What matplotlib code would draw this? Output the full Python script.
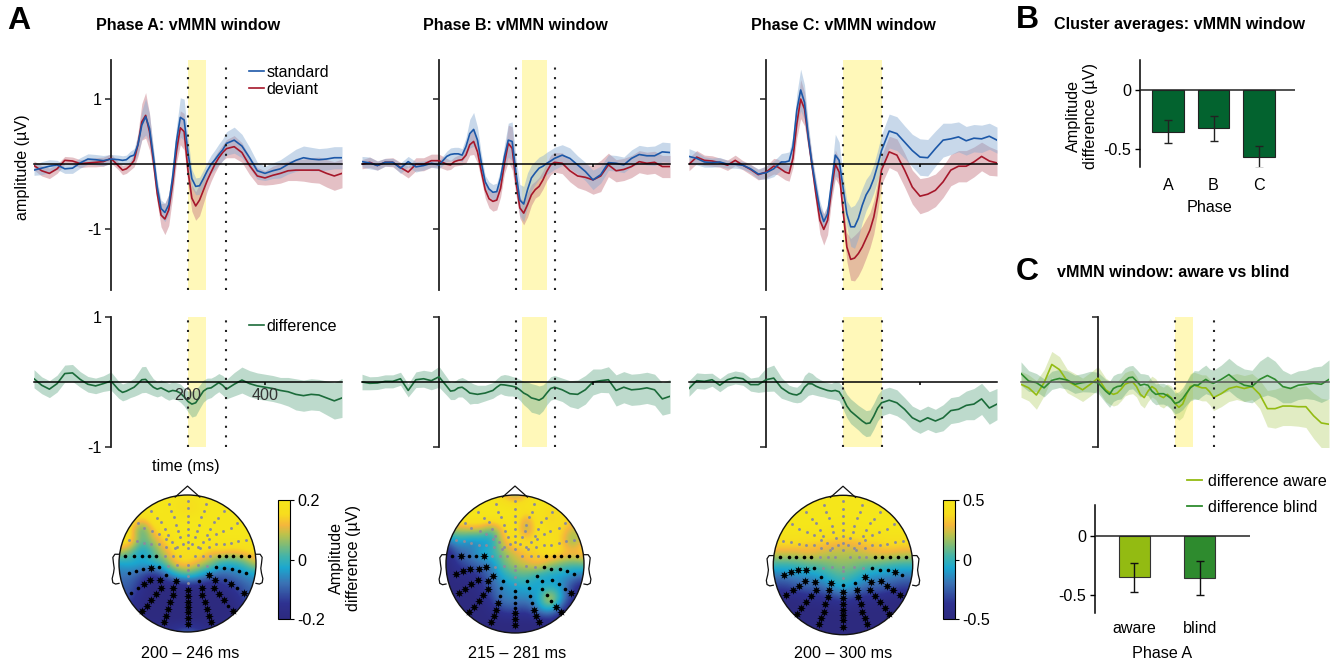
import matplotlib
matplotlib.use('Agg')
import matplotlib.pyplot as plt
from matplotlib.colors import LinearSegmentedColormap
from matplotlib.patches import Circle
import numpy as np

plt.rcParams['font.family'] = ['Liberation Sans', 'DejaVu Sans']
plt.rcParams['font.size'] = 11.6

W, H = 1338, 665

# time points (ms)
T = [-200, -180, -160, -140, -120, -100, -80, -60, -40, -20, 0, 20,
     30, 40, 50, 60, 70, 80, 90, 100, 110, 120, 130, 140, 150, 160, 170, 180, 190, 200,
     210, 220, 230, 240, 250, 260, 270, 280, 290, 300,
     320, 340, 360, 380, 400, 420, 440, 460, 480, 500, 520, 540, 560, 580, 600]

# phase A
std_a = [-.09, -.06, -.03, -.01, -.07, -.06, .02, .08, .07, .055, .08, .07,
         .06, .07, .12, .14, .3, .6, .73, .55, .12, -.35, -.68, -.74, -.62, -.2, .35, .72, .68, .18,
         -.22, -.34, -.33, -.22, -.1, 0, .07, .15, .22, .32,
         .37, .28, .1, -.1, -.14, -.1, -.07, 0, .06, .1, .08, .07, .08, .1, .1]
dev_a = [-.02, -.1, -.14, -.07, .06, .05, .01, .02, .03, .04, .09, -.03,
         -.09, -.07, -.02, .06, .3, .65, .75, .5, .05, -.45, -.78, -.84, -.7, -.3, .2, .56, .5, -.1,
         -.52, -.64, -.55, -.4, -.25, -.12, 0, .1, .18, .24,
         .27, .18, -.02, -.18, -.21, -.17, -.14, -.1, -.09, -.09, -.09, -.09, -.14, -.18, -.14]
se_std_a = [.08, .1, .1, .07, .07, .08, .08, .08, .08, .08, .07, .07,
            .07, .07, .08, .1, .15, .22, .28, .22, .14, .12, .13, .14, .15, .18, .22, .3, .32, .22,
            .14, .13, .13, .13, .13, .14, .15, .16, .17, .18,
            .2, .18, .16, .13, .11, .12, .14, .15, .17, .18, .18, .17, .17, .17, .17]
se_dev_a = [.07, .08, .08, .07, .06, .06, .06, .06, .07, .07, .07, .06,
            .07, .07, .07, .1, .18, .28, .35, .28, .16, .14, .18, .24, .24, .2, .18, .26, .28, .22,
            .2, .22, .24, .2, .16, .14, .13, .12, .12, .14,
            .17, .15, .14, .13, .11, .14, .15, .15, .16, .17, .19, .2, .21, .22, .22]
diff_a = [.05, -.05, -.11, -.025, .13, .14, .04, -.035, -.06, -.025, .015, -.12,
          -.16, -.14, -.11, -.08, -.025, .035, .04, -.025, -.08, -.11, -.09, -.12, -.15, -.13, -.14, -.17, -.23, -.3,
          -.34, -.32, -.23, -.14, -.1, -.09, -.05, -.01, -.05, -.11,
          -.035, .03, -.025, -.06, -.08, -.1, -.13, -.15, -.19, -.21, -.19, -.2, -.245, -.29, -.245]
se_diff_a = [.14, .13, .13, .13, .13, .13, .12, .12, .12, .12, .14, .13,
             .13, .13, .13, .14, .17, .2, .2, .16, .13, .12, .12, .13, .13, .13, .13, .14, .14, .16,
             .2, .2, .18, .17, .16, .15, .14, .14, .15, .15,
             .18, .2, .2, .2, .2, .2, .2, .22, .24, .24, .24, .24, .26, .28, .3]

# phase B
std_b = [.04, .02, -.02, .03, .03, -.06, .04, -.04, -.02, .015, -.01, .12,
         .15, .16, .16, .14, .27, .47, .535, .37, .02, -.27, -.38, -.43, -.42, -.21, .12, .37, .35, -.14,
         -.55, -.61, -.39, -.21, -.13, -.06, -.03, .015, .05, .09,
         .14, .09, -.01, -.11, -.24, -.16, .025, .015, -.01, .09, .15, .13, .13, .19, .18]
dev_b = [0, .03, -.02, .03, .03, -.05, -.12, 0, 0, .055, .055, 0,
         -.01, .04, .06, .07, .14, .3, .35, .19, -.11, -.39, -.53, -.57, -.55, -.37, .015, .32, .245, -.27,
         -.67, -.75, -.62, -.47, -.39, -.34, -.24, -.11, -.01, .03,
         .015, -.1, -.18, -.2, -.24, -.18, -.01, -.1, -.08, -.035, .04, .015, .03, -.035, -.035]
se_std_b = [.08, .09, .07, .06, .06, .08, .08, .08, .07, .06, .06, .08,
            .1, .1, .1, .1, .14, .22, .26, .2, .14, .1, .11, .12, .13, .14, .18, .26, .3, .24,
            .24, .27, .26, .2, .18, .17, .17, .17, .17, .17,
            .16, .16, .14, .14, .15, .13, .12, .12, .12, .13, .14, .14, .15, .15, .15]
se_dev_b = [.07, .08, .07, .06, .07, .08, .09, .1, .1, .1, .1, .09,
            .07, .07, .08, .08, .12, .16, .2, .17, .13, .13, .14, .15, .15, .13, .16, .28, .33, .2,
            .16, .18, .19, .16, .13, .14, .14, .14, .15, .15,
            .16, .17, .18, .2, .22, .24, .18, .17, .17, .17, .17, .17, .17, .17, .17]
diff_b = [0, -.02, -.015, .01, .01, .05, -.13, .035, .05, .02, .08, -.065,
          -.14, -.13, -.09, -.08, -.12, -.17, -.18, -.19, -.18, -.17, -.15, -.13, -.08, -.04, -.045, -.055, -.065, -.08,
          -.12, -.17, -.2, -.245, -.26, -.28, -.245, -.17, -.1, -.08,
          -.12, -.18, -.19, -.12, 0, .02, .035, -.13, -.08, -.12, -.11, -.09, -.12, -.26, -.22]
se_diff_b = [.12, .1, .1, .1, .1, .1, .1, .12, .13, .14, .16, .14,
             .13, .14, .14, .15, .16, .17, .15, .14, .13, .12, .12, .12, .13, .14, .16, .16, .15, .15,
             .16, .18, .2, .22, .22, .22, .2, .18, .18, .18,
             .18, .2, .22, .22, .2, .18, .2, .24, .24, .24, .24, .24, .24, .25, .26]

# phase C
std_c = [.12, .09, .035, .025, .035, 0, 0, -.015, -.07, -.15, -.13, -.07,
         -.015, .035, .035, .05, .27, .83, 1.14, .95, .42, -.015, -.37, -.7, -.88, -.76, -.3, .14, .06, -.35,
         -.76, -.96, -.96, -.83, -.63, -.47, -.37, -.22, -.015, .21,
         .51, .47, .34, .21, .11, .1, .24, .37, .39, .42, .36, .4, .39, .43, .37]
dev_c = [0, .11, .06, .05, .025, -.015, .06, -.015, -.08, -.16, -.12, -.03,
         -.04, -.08, -.12, -.14, .09, .62, 1.0, .85, .39, -.04, -.47, -.86, -1.0, -.86, -.4, 0, -.12, -.7,
         -1.27, -1.46, -1.44, -1.37, -1.27, -1.14, -1.01, -.81, -.5, -.09,
         .19, .14, -.09, -.35, -.49, -.46, -.4, -.27, -.09, -.03, -.03, .035, .12, .05, .02]
se_std_c = [.12, .1, .08, .07, .07, .06, .06, .06, .06, .08, .1, .12,
            .12, .13, .14, .14, .16, .25, .32, .27, .2, .14, .14, .13, .12, .13, .18, .32, .28, .18,
            .2, .3, .33, .3, .26, .24, .22, .22, .23, .24,
            .26, .26, .25, .25, .28, .28, .27, .26, .24, .23, .22, .21, .21, .2, .2]
se_dev_c = [.1, .1, .08, .08, .07, .08, .08, .07, .08, .08, .09, .12,
            .12, .12, .12, .12, .14, .22, .3, .26, .16, .14, .17, .21, .24, .22, .17, .22, .2, .18,
            .22, .32, .35, .34, .32, .3, .27, .26, .23, .22,
            .24, .25, .26, .26, .27, .26, .25, .24, .24, .24, .24, .23, .22, .22, .2]
diff_c = [-.1, .02, .01, .035, -.05, .035, .07, .05, -.04, -.04, .035, .06,
          -.015, -.09, -.13, -.17, -.19, -.2, -.17, -.08, -.025, -.03, -.065, -.09, -.11, -.13, -.14, -.13, -.15, -.245,
          -.37, -.45, -.5, -.55, -.6, -.64, -.63, -.525, -.4, -.32,
          -.28, -.32, -.42, -.55, -.61, -.55, -.6, -.55, -.44, -.42, -.36, -.34, -.26, -.4, -.34]
se_diff_c = [.12, .12, .12, .1, .1, .1, .1, .1, .1, .12, .18, .2,
             .18, .16, .14, .12, .12, .12, .14, .18, .18, .16, .14, .13, .12, .12, .12, .14, .14, .17,
             .18, .19, .19, .19, .2, .2, .2, .2, .2, .2,
             .2, .2, .18, .18, .18, .18, .18, .2, .2, .2, .22, .24, .24, .25, .24]

# aware vs blind
diff_aware = [-.035, -.09, -.2, -.01, .27, .19, .015, -.05, -.12, -.035, .06, -.12,
              -.16, -.19, -.17, -.11, -.035, -.01, 0, -.07, -.19, -.24, -.14, -.07, -.11, -.21, -.24, -.19, -.24, -.33,
              -.39, -.34, -.19, -.07, -.05, -.07, -.09, -.09, -.15, -.24,
              -.18, -.1, -.07, -.1, -.07, -.19, -.41, -.41, -.37, -.37, -.38, -.38, -.52, -.63, -.65]
se_aware = [.2, .2, .22, .2, .2, .2, .18, .18, .18, .18, .18, .18,
            .18, .18, .18, .18, .18, .18, .18, .16, .16, .16, .16, .16, .16, .16, .16, .16, .18, .2,
            .2, .2, .2, .2, .2, .2, .2, .2, .2, .2,
            .2, .2, .2, .2, .2, .22, .28, .3, .3, .3, .3, .32, .35, .38, .38]
diff_blind = [.13, .015, -.01, -.09, .025, .055, .03, -.035, -.01, .005, -.01, -.14,
              -.19, -.1, -.07, -.06, .015, .065, .075, .015, -.05, -.035, -.05, -.14, -.19, -.18, -.18, -.21, -.255, -.33,
              -.31, -.255, -.17, -.09, -.045, -.05, 0, .04, 0, -.02,
              .04, .115, .015, -.05, -.07, .04, .1, .04, -.07, -.1, -.05, -.035, -.02, -.035, .04]
se_blind = [.18, .16, .14, .14, .14, .14, .14, .14, .14, .16, .16, .18,
            .2, .2, .2, .2, .2, .18, .18, .18, .18, .16, .16, .16, .16, .16, .16, .16, .16, .16,
            .16, .17, .18, .2, .22, .22, .22, .22, .2, .2,
            .22, .25, .25, .25, .25, .28, .3, .28, .25, .22, .22, .22, .25, .28, .3]

# bars
phases = ['A', 'B', 'C']
phase_vals = [-.353, -.322, -.565]
phase_err = [.097, .106, .093]
aware_labels = ['aware', 'blind']
aware_vals = [-.35, -.356]
aware_err = [.124, .143]

# topographies, fraction of the colour limit, front of the head on top
topo_a = [[1, 1, 1, 1, 1, 1, 1, 1, 1, 1, 1, 1, 1],
          [1, 1, 1, 1, 1, .9, .65, .9, 1, 1, 1, 1, 1],
          [1, 1, .7, 1, 1, 1, 1, 1, 1, 1, 1, 1, 1],
          [1, .8, -.1, .7, .95, 1, 1, 1, 1, 1, 1, 1, 1],
          [1, .9, .1, .4, .7, 1, 1, 1, 1, 1, 1, 1, 1],
          [.4, .2, -.3, .1, .5, .8, .8, .9, .6, .7, .6, .7, .8],
          [-.2, -.1, -.1, 0, .1, .7, .8, .5, .3, -.1, -.1, .1, .5],
          [-.4, -.4, -.6, -.9, -.5, -.1, .1, -.1, -.4, -.5, -.4, -.3, -.2],
          [-.5, -.5, -.8, -1, -1, -1, -.9, -.9, -1, -.8, -.7, -.5, -.4],
          [-.6, -.6, -.9, -1, -1, -1, -1, -1, -1, -1, -.9, -.6, -.5],
          [-.7, -.8, -1, -1, -1, -1, -1, -1, -1, -1, -1, -.8, -.7],
          [-.6, -.6, -1, -1, -1, -1, -1, -1, -1, -1, -.9, -.6, -.5],
          [-.5, -.5, -.5, -.7, -.8, -.6, -.4, -.6, -.8, -.7, -.5, -.5, -.5]]
topo_b = [[1, 1, 1, 1, 1, .6, .2, .6, 1, 1, 1, 1, 1],
          [1, 1, 1, 1, 1, 1, .95, 1, 1, .8, .8, .8, .7],
          [1, 1, 1, 1, 1, 1, 1, .4, 1, .6, .85, .7, .7],
          [.4, .4, .5, .5, .1, .7, 1, .1, 1, .8, .8, .4, .5],
          [-.5, -.1, -.3, -.3, -.2, .6, .9, .8, .8, .9, .7, .1, .7],
          [-1, -.5, -.4, -.1, 0, .3, .5, .7, .7, .9, .8, .7, .8],
          [-1, -.7, -.5, -.4, -.3, .2, .4, .5, .7, .4, .2, .1, .2],
          [-1, -.9, -.9, -.7, -.4, -.1, .1, .1, -.1, -.2, -.2, -.3, -.4],
          [-1, -1, -1, -.8, -.5, -.3, -.2, -.1, -.2, -.1, -.2, -.7, -1],
          [-1, -1, -1, -1, -.6, -.3, -.3, -.3, -.2, .8, -.1, -.8, -1],
          [-1, -1, -1, -1, -.9, -.6, -.6, -.7, -.3, -.1, -.7, -1, -1],
          [-1, -1, -1, -1, -1, -1, -1, -1, -1, -.9, -1, -1, -1],
          [-1, -1, -1, -1, -1, -1, -1, -1, -1, -1, -1, -1, -1]]
topo_c = [[1, 1, 1, 1, 1, 1, 1, 1, 1, 1, 1, 1, 1],
          [1, 1, 1, 1, 1, 1, 1, 1, 1, 1, 1, 1, 1],
          [1, 1, 1, 1, 1, 1, 1, 1, 1, 1, 1, 1, 1],
          [1, 1, 1, 1, 1, .95, .9, .95, 1, 1, 1, 1, 1],
          [.8, .8, .8, .7, .7, .65, .6, .6, .7, .7, .8, .8, .8],
          [.5, .5, .5, .6, .5, .4, .4, .4, .5, .6, .6, .5, .5],
          [0, 0, 0, .1, .15, .25, .3, .25, .15, .1, 0, 0, 0],
          [-.4, -.4, -.3, -.3, -.2, 0, .1, 0, -.2, -.3, -.3, -.4, -.4],
          [-.7, -.7, -.6, -.5, -.5, -.3, -.1, -.3, -.5, -.5, -.6, -.7, -.7],
          [-1, -1, -1, -.9, -.9, -.8, -.7, -.8, -.9, -.9, -1, -1, -1],
          [-1, -1, -1, -1, -1, -1, -1, -1, -1, -1, -1, -1, -1],
          [-1, -1, -1, -1, -1, -1, -1, -1, -1, -1, -1, -1, -1],
          [-1, -1, -1, -1, -1, -1, -1, -1, -1, -1, -1, -1, -1]]

# electrodes (distance from midline, row), radius 209, centre row 256
front_mid = [(0, 65), (0, 88), (0, 110), (0, 130), (0, 150), (0, 170), (0, 190), (0, 210), (0, 262)]
front_side = [(57, 75), (50, 97), (42, 115), (34, 138), (30, 157), (22, 175), (14, 195),
              (112, 97), (94, 118), (80, 130), (70, 150), (60, 170), (47, 190), (32, 205),
              (152, 133), (132, 147), (107, 157), (87, 165), (67, 180),
              (179, 183), (155, 187), (132, 193), (110, 197), (87, 197), (65, 205), (38, 210),
              (61, 265), (33, 262)]
equator_l = [(190, 233), (163, 233), (140, 233), (118, 233), (95, 233), (70, 233), (45, 233), (23, 233)]
equator_r = [(22, 233), (47, 233), (70, 233), (95, 233), (117, 233), (140, 233), (164, 233), (189, 233)]
back_mid = [(0, 275), (0, 295), (0, 317), (0, 337), (0, 355), (0, 373), (0, 390), (0, 405), (0, 422), (0, 442)]
spoke1 = [(36, 309), (43, 330), (45, 352), (53, 374), (58, 396), (65, 415), (73, 433)]
spoke2 = [(66, 292), (83, 307), (82, 332), (97, 350), (110, 367), (125, 385), (138, 402)]
spoke3 = [(113, 305), (133, 318), (151, 331), (171, 345)]
row4 = [(88, 266), (110, 271), (135, 272), (157, 278), (178, 285)]

# g grey dot, d black dot, s asterisk
marks_a = dict(eq_l='dddddggg', eq_r='gggddddd', mid='gggsssssss', s1l='sssssss', s1r='dssssss',
               s2l='dssssss', s2r='sssssds', s3l='ssdd', s3r='dsds', r4l='dsddd', r4r='ddddd')
marks_b = dict(eq_l='dsddsggg', eq_r='gggddddd', mid='gggddddsss', s1l='dddssss', s1r='ddddsss',
               s2l='sssssss', s2r='dddddss', s3l='ssss', s3r='ddds', r4l='sssss', r4r='ddddd')
marks_c = dict(eq_l='dddddggg', eq_r='gggddddd', mid='ggdsssssss', s1l='sssssss', s1r='dssssss',
               s2l='dssssss', s2r='sssssss', s3l='ssss', s3r='ssss', r4l='dssss', r4r='dddsd')

# head outline, unit radius
nose_x = [-.18, 0, .18]
nose_y = [.97, 1.13, .97]
ear_x = [1.0, 1.06, 1.09, 1.08, 1.07, 1.08, 1.10, 1.09, 1.05, 1.0]
ear_y = [.135, .135, .09, 0, -.07, -.14, -.22, -.28, -.30, -.29]

topo_cmap = LinearSegmentedColormap.from_list('topo', [
    (0, '#2d2a7f'), (.13, '#2e3190'), (.3, '#3a72b4'), (.43, '#1ba7cf'), (.52, '#3fb3ad'),
    (.62, '#7dbb78'), (.71, '#bcc24b'), (.79, '#f5b63c'), (.88, '#f7dc1e'), (1, '#f5e61a')])

c_std = '#1c58a8'
c_dev = '#a6172a'
c_band_std = '#86aad2'
c_band_dev = '#c47480'
c_diff = '#1b6b3a'
c_band_diff = '#6eae8e'
c_aware = '#93bb12'
c_blind = '#2e8b2e'
yellow = '#fff8b9'

fig = plt.figure(figsize=(W / 100, H / 100), dpi=100)


def px_axes(x0, y0, x1, y1):
    # axes from pixel box, y from the top
    return fig.add_axes([x0 / W, 1 - y1 / H, (x1 - x0) / W, (y1 - y0) / H])


def px_text(x, y, s, **kw):
    kw.setdefault('ha', 'center')
    kw.setdefault('va', 'center')
    return fig.text(x / W, 1 - y / H, s, **kw)


def erp_axes(spine_x, y0, y1, ylim, win, yticks):
    ax = px_axes(spine_x - 77, y0, spine_x + 231, y1)
    ax.patch.set_alpha(0)
    ax.set_xlim(-200, 600)
    ax.set_ylim(*ylim)
    ax.axvspan(win[0], win[1], color=yellow, lw=0, zorder=0)
    for t in (200, 300):
        ax.axvline(t, color='#222222', lw=1.5, ls=(0, (1, 3.6)), zorder=5)
    ax.spines['top'].set_visible(False)
    ax.spines['right'].set_visible(False)
    ax.spines['left'].set_position(('data', 0))
    ax.spines['bottom'].set_position(('data', 0))
    ax.spines['left'].set_linewidth(1.3)
    ax.spines['left'].set_color('#222222')
    ax.spines['bottom'].set_linewidth(1.1)
    ax.spines['bottom'].set_zorder(6)
    ax.xaxis.set_zorder(8)
    ax.set_xticks([200, 400])
    ax.set_xticklabels([])
    ax.set_yticks(yticks)
    ax.set_yticklabels([])
    ax.tick_params(axis='y', length=4, width=1.1, color='#222222', pad=3)
    ax.tick_params(axis='x', length=2.5, width=1.1, direction='out')
    return ax


def band(ax, m, se, line, fill, alpha=.45, lw=1.2, z=2):
    m, se = np.array(m), np.array(se)
    ax.fill_between(T, m - se, m + se, color=fill, alpha=alpha, lw=0, zorder=z)
    ax.plot(T, m, color=line, lw=lw, zorder=z + 2, solid_joinstyle='round')


def erp_panel(spine_x, win, std, se_std, dev, se_dev, diff, se_diff, labelled=False):
    ax = erp_axes(spine_x, 60, 290, (-1.93, 1.6), win, [-1, 1])
    band(ax, dev, se_dev, c_dev, c_band_dev)
    band(ax, std, se_std, c_std, c_band_std)
    ax2 = erp_axes(spine_x, 317, 447, (-1, 1), win, [-1, 1])
    band(ax2, diff, se_diff, c_diff, c_band_diff)
    if labelled:
        ax.set_yticklabels(['-1', '1'])
        ax2.set_yticklabels(['-1', '1'])
        ax2.set_xticklabels(['200', '400'], color='#333333')
        ax2.tick_params(axis='x', pad=2)
        ax.legend(handles=[ax.plot([], [], color=c_std, lw=1.2, label='standard')[0],
                           ax.plot([], [], color=c_dev, lw=1.2, label='deviant')[0]],
                  loc='upper left', bbox_to_anchor=(249 / W, 1 - 65 / H), bbox_transform=fig.transFigure,
                  frameon=False, borderpad=0, borderaxespad=0, handlelength=.94, handletextpad=.15,
                  labelspacing=.12)
        ax2.legend(handles=[ax2.plot([], [], color=c_diff, lw=1.2, label='difference')[0]],
                   loc='upper left', bbox_to_anchor=(249 / W, 1 - 319 / H), bbox_transform=fig.transFigure,
                   frameon=False, borderpad=0, borderaxespad=0, handlelength=.94, handletextpad=.15)
    return ax, ax2


def draw_marks(ax, pts, code, flip=False):
    for (dx, row), m in zip(pts, code):
        x = (-dx if flip else dx) / 209
        y = (256 - row) / 209
        if m == 'g':
            ax.plot(x, y, 'o', ms=2.1, color='#8c8c9c', mew=0, zorder=5)
        elif m == 'd':
            ax.plot(x, y, 'o', ms=2.6, color='black', mew=0, zorder=5)
        else:
            ax.plot(x, y, marker=(8, 1, 0), ms=5.6, color='black', mew=.2, zorder=6)


def topo(cx, cy, r, vals, lim, marks):
    ext = 1.3 * r
    ax = px_axes(cx - ext, cy - ext, cx + ext, cy + ext)
    ax.set_xlim(-1.3, 1.3)
    ax.set_ylim(-1.3, 1.3)
    ax.axis('off')
    im = ax.imshow(np.array(vals) * lim, extent=(-13 / 12, 13 / 12, -13 / 12, 13 / 12), cmap=topo_cmap,
                   vmin=-lim, vmax=lim, interpolation='bicubic', zorder=1)
    head = Circle((0, 0), 1, transform=ax.transData, fc='none', ec='#111111', lw=1, zorder=4)
    ax.add_patch(head)
    im.set_clip_path(head)
    ax.plot(nose_x, nose_y, color='#111111', lw=.9, zorder=3)
    ax.plot(ear_x, ear_y, color='#111111', lw=.9, zorder=3)
    ax.plot(-np.array(ear_x), ear_y, color='#111111', lw=.9, zorder=3)
    # front electrodes are grey everywhere
    draw_marks(ax, front_mid, 'g' * len(front_mid))
    draw_marks(ax, front_side, 'g' * len(front_side))
    draw_marks(ax, front_side, 'g' * len(front_side), flip=True)
    draw_marks(ax, equator_l, marks['eq_l'], flip=True)
    draw_marks(ax, equator_r, marks['eq_r'])
    draw_marks(ax, back_mid, marks['mid'])
    for pts, left, right in ((spoke1, 's1l', 's1r'), (spoke2, 's2l', 's2r'), (spoke3, 's3l', 's3r'), (row4, 'r4l', 'r4r')):
        draw_marks(ax, pts, marks[left], flip=True)
        draw_marks(ax, pts, marks[right])
    return im


def cbar(im, x0, lim, labels):
    cax = px_axes(x0, 500, x0 + 12, 619)
    cb = fig.colorbar(im, cax=cax, ticks=[-lim, 0, lim])
    cb.ax.set_yticklabels(labels)
    cb.ax.tick_params(length=3, width=.8, pad=2)
    cb.outline.set_linewidth(.8)
    return cb


def bar_axes(x0, x1, y0, y1, ylim, xlim, pad):
    ax = px_axes(x0, y0, x1, y1)
    ax.set_xlim(*xlim)
    ax.set_ylim(*ylim)
    ax.spines['top'].set_visible(False)
    ax.spines['right'].set_visible(False)
    ax.spines['bottom'].set_visible(False)
    ax.spines['left'].set_linewidth(1.1)
    ax.axhline(0, color='#222222', lw=1.1, zorder=5)
    ax.set_yticks([-.5, 0])
    ax.set_yticklabels(['-0.5', '0'])
    ax.tick_params(axis='y', length=3.5, width=1, pad=3)
    ax.tick_params(axis='x', length=0, pad=pad)
    return ax


# panel A and the ERP rows
ax_a, ax_a2 = erp_panel(111, (200, 246), std_a, se_std_a, dev_a, se_dev_a, diff_a, se_diff_a, labelled=True)
erp_panel(439, (215, 281), std_b, se_std_b, dev_b, se_dev_b, diff_b, se_diff_b)
erp_panel(766, (200, 300), std_c, se_std_c, dev_c, se_dev_c, diff_c, se_diff_c)

# aware vs blind
ax_c = erp_axes(1098, 317, 447, (-1, 1), (200, 246), [-1, 1])
band(ax_c, diff_aware, se_aware, c_aware, '#b6d06a', alpha=.4)
band(ax_c, diff_blind, se_blind, c_blind, '#5fa776', alpha=.38)
ax_c.spines['bottom'].set_color('#555555')

# topographies
im_a = topo(187.5, 563.5, 68.5, topo_a, .2, marks_a)
topo(515, 564, 69, topo_b, .2, marks_b)
im_c = topo(843, 565, 69.7, topo_c, .5, marks_c)
cbar(im_a, 278, .2, ['-0.2', '0', '0.2'])
cbar(im_c, 943, .5, ['-0.5', '0', '0.5'])

# phase bars
ax_b = bar_axes(1140, 1295, 60, 167, (-.65, .254), (-.615, 2.79), 8)
ax_b.bar([0, 1, 2], phase_vals, width=.7, color='#03632f', ec='#222222', lw=.8)
ax_b.errorbar([0, 1, 2], phase_vals, yerr=phase_err, fmt='none', ecolor='#222222', elinewidth=1, capsize=2.6, capthick=1, zorder=6)
ax_b.set_xticks([0, 1, 2])
ax_b.set_xticklabels(phases)

# aware / blind bars
ax_d = bar_axes(1095, 1250, 505, 612.7, (-.65, .26), (-.603, 1.77), 6)
ax_d.bar([0, 1], aware_vals, width=.48, color=[c_aware, c_blind], ec='#333333', lw=.8)
ax_d.errorbar([0, 1], aware_vals, yerr=aware_err, fmt='none', ecolor='#111111', elinewidth=1, capsize=2.6, capthick=1, zorder=6)
ax_d.set_xticks([0, 1])
ax_d.set_xticklabels(aware_labels)
ax_d.legend(handles=[ax_d.plot([], [], color=c_aware, lw=1.3, label='difference aware')[0],
                     ax_d.plot([], [], color=c_blind, lw=1.3, label='difference blind')[0]],
            loc='upper left', bbox_to_anchor=(1187 / W, 1 - 474 / H), bbox_transform=fig.transFigure,
            frameon=False, borderpad=0, borderaxespad=0, handlelength=.94, handletextpad=.35, labelspacing=.69)

# titles and labels
for x, s in ((188, 'Phase A: vMMN window'), (515, 'Phase B: vMMN window'), (843, 'Phase C: vMMN window'),
             (1179, 'Cluster averages: vMMN window')):
    px_text(x, 25, s, weight='bold')
px_text(1173.5, 272, 'vMMN window: aware vs blind', weight='bold')
px_text(19, 21, 'A', weight='bold', fontsize=23)
px_text(1027, 20, 'B', weight='bold', fontsize=23)
px_text(1027, 272, 'C', weight='bold', fontsize=23)
px_text(23, 167, 'amplitude (µV)', rotation=90)
px_text(186, 466, 'time (ms)')
px_text(190, 654, '200 – 246 ms')
px_text(517, 654, '215 – 281 ms')
px_text(843, 654, '200 – 300 ms')
px_text(345, 558, 'Amplitude\ndifference (µV)', rotation=90, linespacing=1.15)
px_text(1082, 116, 'Amplitude\ndifference (µV)', rotation=90, linespacing=1.15)
px_text(1210, 208, 'Phase')
px_text(1162, 654, 'Phase A')

fig.savefig('out.png', dpi=100)
